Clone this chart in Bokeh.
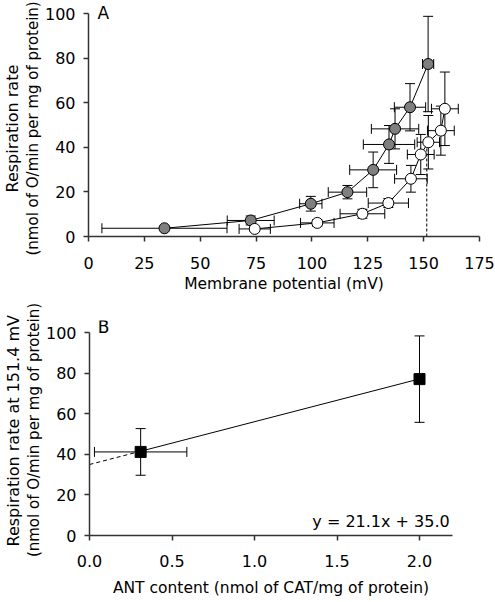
import numpy as np
from bokeh.plotting import figure
from bokeh.layouts import column
from bokeh.models import Range1d, FixedTicker, Label, NumeralTickFormatter, Title
from bokeh.embed import file_html
from bokeh.resources import INLINE

# ---------------- Panel A data ----------------
filled_x = [34.0, 72.6, 99.5, 115.9, 127.4, 134.5, 137.2, 143.9, 152.0]
filled_y = [3.7, 7.2, 14.7, 19.9, 29.9, 41.3, 48.3, 58.0, 77.4]
filled_xerr = [28.0, 10.5, 5.0, 8.6, 10.5, 11.5, 10.6, 7.0, 2.5]
filled_yerr = [0.8, 2.0, 3.3, 3.0, 8.0, 8.5, 9.0, 10.6, 21.4]

open_x = [74.4, 102.4, 122.6, 134.2, 144.3, 148.7, 152.1, 157.7, 159.5]
open_y = [3.4, 6.1, 10.2, 15.0, 25.9, 36.8, 42.3, 47.5, 57.3]
open_xerr = [7.0, 7.5, 10.0, 9.0, 7.3, 6.0, 5.0, 6.0, 6.0]
open_yerr = [1.0, 1.5, 2.0, 2.0, 6.0, 9.0, 12.0, 11.0, 16.5]

ref_potential = 151.4
ref_rate_open = 42.3

a_xticks = [0, 25, 50, 75, 100, 125, 150, 175]
a_yticks = [0, 20, 40, 60, 80, 100]
a_ylabel = ["Respiration rate", "(nmol of O/min per mg of protein)"]

# ---------------- Panel B data ----------------
ant_x = [0.31, 2.0]
ant_y = [41.2, 77.1]
ant_xerr = [0.28, 0.02]
ant_yerr = [11.5, 21.3]
fit_slope = 21.1
fit_intercept = 35.0
b_xticks = [0.0, 0.5, 1.0, 1.5, 2.0]
b_yticks = [0, 20, 40, 60, 80, 100]
b_ylabel = ["Respiration rate at 151.4 mV", "(nmol of O/min per mg of protein)"]

FONT = "DejaVu Sans"
AX = "#333333"


def style(p):
    p.outline_line_color = None
    p.grid.visible = False
    p.background_fill_color = "white"
    p.border_fill_color = "white"
    for ax in p.axis:
        ax.axis_line_width = 1.5
        ax.axis_line_color = AX
        ax.major_tick_line_width = 1.5
        ax.major_tick_line_color = AX
        ax.major_tick_in = 0
        ax.major_tick_out = 5
        ax.minor_tick_line_color = None
        ax.major_label_text_font = FONT
        ax.major_label_text_font_size = "16px"
        ax.major_label_text_color = "black"
        ax.axis_label_text_font = FONT
        ax.axis_label_text_font_size = "15.5px"
        ax.axis_label_text_font_style = "normal"
        ax.axis_label_text_color = "black"
    p.yaxis.major_label_standoff = 8


def ylabel(p, lines, offsets):
    # second line (nearest to the axis) first, then the first line outward
    for t, off, fs in [(lines[1], offsets[1], "15px"), (lines[0], offsets[0], "16px")]:
        p.add_layout(Title(text=t, align="left", offset=off, standoff=0,
                           text_font=FONT, text_font_size=fs, text_font_style="normal",
                           text_color="black"), "left")


def errorbars(p, x, y, xerr, yerr, cap=10):
    x = np.array(x); y = np.array(y)
    xerr = np.array(xerr); yerr = np.array(yerr)
    p.segment(x0=x - xerr, y0=y, x1=x + xerr, y1=y, line_color="black", line_width=1)
    p.segment(x0=x, y0=y - yerr, x1=x, y1=y + yerr, line_color="black", line_width=1)
    p.scatter(x=np.concatenate([x - xerr, x + xerr]), y=np.concatenate([y, y]),
              marker="dash", angle=np.pi / 2, size=cap, line_color="black", line_width=1)
    p.scatter(x=np.concatenate([x, x]), y=np.concatenate([y - yerr, y + yerr]),
              marker="dash", size=cap, line_color="black", line_width=1)


# ---------------- Panel A ----------------
pA = figure(width=495, height=300, output_backend="svg", toolbar_location=None,
            x_range=Range1d(0, 175), y_range=Range1d(0, 105), frame_align=False,
            min_border_left=88, min_border_right=16, min_border_top=2, min_border_bottom=64)
style(pA)
pA.xaxis.ticker = FixedTicker(ticks=a_xticks)
pA.yaxis.ticker = FixedTicker(ticks=a_yticks)
pA.yaxis.bounds = (0, 100)
pA.xaxis.major_label_standoff = 15
pA.xaxis.axis_label_standoff = 3
pA.xaxis.axis_label = "Membrane potential (mV)"
ylabel(pA, a_ylabel, [44, -19])

pA.segment(x0=[ref_potential], y0=[0], x1=[ref_potential], y1=[ref_rate_open],
           line_color="black", line_width=1, line_dash="3 2")
pA.line(filled_x, filled_y, line_color="black", line_width=1)
pA.line(open_x, open_y, line_color="black", line_width=1)
errorbars(pA, filled_x, filled_y, filled_xerr, filled_yerr)
errorbars(pA, open_x, open_y, open_xerr, open_yerr)
pA.scatter(filled_x, filled_y, size=11, fill_color="#7f7f7f", line_color="black", line_width=1)
pA.scatter(open_x, open_y, size=11, fill_color="white", line_color="black", line_width=1)
pA.add_layout(Label(x=4, y=100.2, text="A", text_baseline="middle", text_font=FONT,
                    text_font_size="17px", text_color="black"))

# ---------------- Panel B ----------------
pB = figure(width=495, height=302, output_backend="svg", toolbar_location=None,
            x_range=Range1d(0, 2.2), y_range=Range1d(0, 106), frame_align=False,
            min_border_left=89, min_border_right=43, min_border_top=20, min_border_bottom=67)
style(pB)
pB.xaxis.ticker = FixedTicker(ticks=b_xticks)
pB.xaxis.formatter = NumeralTickFormatter(format="0.0")
pB.yaxis.ticker = FixedTicker(ticks=b_yticks)
pB.yaxis.bounds = (0, 100)
pB.xaxis.major_label_standoff = 14
pB.xaxis.axis_label_standoff = 9
pB.xaxis.axis_label = "ANT content (nmol of CAT/mg of protein)"
ylabel(pB, b_ylabel, [-11, -21.6])

fx0 = [0.0, ant_x[0]]
pB.line(fx0, [fit_intercept + fit_slope * v for v in fx0], line_color="black",
        line_width=1, line_dash="4 3")
fx1 = [ant_x[0], ant_x[1]]
pB.line(fx1, [fit_intercept + fit_slope * v for v in fx1], line_color="black", line_width=1)
errorbars(pB, ant_x, ant_y, ant_xerr, ant_yerr)
pB.scatter(ant_x, ant_y, marker="square", size=11, fill_color="black", line_color="black")
pB.add_layout(Label(x=0.05, y=102.6, text="B", text_baseline="middle", text_font=FONT,
                    text_font_size="17px", text_color="black"))
pB.add_layout(Label(x=2.183, y=7.05, text="y = 21.1x + 35.0", text_align="right",
                    text_baseline="alphabetic", text_font=FONT, text_font_size="16px",
                    text_color="black"))

layout = column(pA, pB, spacing=0)
open("out.html", "w").write(file_html(layout, INLINE))
